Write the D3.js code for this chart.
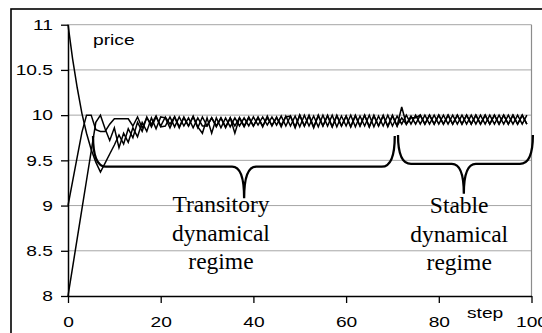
<!DOCTYPE html>
<html>
<head>
<meta charset="utf-8">
<script src="https://cdn.jsdelivr.net/npm/d3@7/dist/d3.min.js"></script>
<style>
  html, body { margin: 0; padding: 0; background: #fff; }
  svg { display: block; }
</style>
</head>
<body>
<svg id="chart" width="542" height="333"></svg>
<script>
// ---------------- data ----------------
const xTicks = [0, 20, 40, 60, 80, 100];
const yTicks = [8, 8.5, 9, 9.5, 10, 10.5, 11];
const yTickLabels = ["8", "8.5", "9", "9.5", "10", "10.5", "11"];

// price trajectories, one value per step (index = step)
const seriesFrom11 = [
  11, 10.62, 10.3, 10.02, 9.8, 9.62, 9.48, 9.37, 9.47, 9.57,
  9.67, 9.78, 9.68, 9.85, 9.75, 9.92, 9.82, 9.98, 9.87, 9.98,
  9.88, 9.98, 9.9, 9.98, 9.86, 9.98, 9.88, 9.99, 9.87, 9.8,
  9.97, 9.8, 9.97, 9.86, 9.97, 9.87, 9.97, 9.88, 9.97, 9.88,
  9.98, 9.89, 9.98, 9.89, 9.98, 9.89, 9.99, 9.88, 9.99, 9.86,
  10, 9.88, 10, 9.87, 9.99, 9.88, 10, 9.87, 9.99, 9.88,
  9.99, 9.87, 10, 9.88, 10, 9.87, 9.99, 9.88, 10, 9.87,
  9.99, 9.88, 10.09, 9.9, 9.99, 9.9, 10, 9.9, 10, 9.9,
  10, 9.9, 10, 9.9, 10, 9.9, 10, 9.9, 10, 9.9,
  10, 9.9, 10, 9.9, 10, 9.9, 10, 9.9, 10, 9.9
];
const seriesFrom9 = [
  9, 9.27, 9.54, 9.81, 10, 10, 9.84, 9.82, 9.82, 9.9,
  9.96, 9.96, 9.96, 9.96, 9.88, 9.98, 9.86, 9.97, 9.9, 9.99,
  9.87, 9.88, 9.98, 9.87, 9.98, 9.88, 9.97, 9.86, 9.97, 9.88,
  9.88, 9.97, 9.87, 9.97, 9.86, 9.97, 9.8, 9.97, 9.87, 9.97,
  9.88, 9.97, 9.88, 9.97, 9.89, 9.97, 9.89, 9.98, 9.99, 9.87,
  10, 9.88, 9.99, 9.86, 10, 9.88, 9.99, 9.87, 10, 9.88,
  9.99, 9.87, 9.99, 9.88, 10, 9.87, 10, 9.88, 9.99, 9.88,
  10, 9.88, 9.97, 9.9, 9.97, 9.97, 10, 9.9, 10, 9.9,
  10, 9.9, 10, 9.9, 10, 9.9, 10, 9.9, 10, 9.9,
  10, 9.9, 10, 9.9, 10, 9.9, 10, 9.9, 10, 9.9
];
const seriesFrom8 = [
  8, 8.32, 8.64, 8.96, 9.28, 9.6, 9.92, 10, 9.85, 9.72,
  9.86, 9.64, 9.8, 9.7, 9.86, 9.76, 9.92, 9.82, 9.97, 9.85,
  9.98, 9.97, 9.86, 9.98, 9.87, 9.97, 9.88, 9.98, 9.86, 9.98,
  9.88, 9.97, 9.88, 9.97, 9.87, 9.97, 9.88, 9.97, 9.88, 9.98,
  9.88, 9.98, 9.87, 9.99, 9.88, 9.98, 9.87, 9.99, 9.88, 9.99,
  9.87, 10, 9.88, 9.99, 9.87, 10, 9.88, 10, 9.87, 9.99,
  9.88, 10, 9.87, 9.99, 9.88, 10, 9.87, 9.99, 9.88, 10,
  9.88, 9.99, 9.9, 10, 9.9, 10, 9.9, 10, 9.9, 10,
  9.9, 10, 9.9, 10, 9.9, 10, 9.9, 10, 9.9, 10,
  9.9, 10, 9.9, 10, 9.9, 10, 9.9, 10, 9.9, 10
];
const allSeries = [seriesFrom11, seriesFrom9, seriesFrom8];

// braces (in data units): [xStart, xEnd, yEnds, yBar, xTip, yTip, cornerSteps, cuspSteps]
const braceStart = [5.4, 71.2];
const braceEnd = [70.5, 100.3];
const braceEndY = [9.77, 9.78];
const braceBarY = [9.43, 9.46];
const braceTipX = [38.0, 85.4];
const braceTipY = [9.08, 9.13];

const regimeLines = [["Transitory", "dynamical", "regime"], ["Stable", "dynamical", "regime"]];
const regimeCenterX = [33.0, 84.4];
const regimeBaseY = [9.85, 9.53, 9.22]; // line baselines in data units (approx)

// ---------------- drawing ----------------
const svg = d3.select("#chart");
const x = d3.scaleLinear().domain([0, 100]).range([68, 531.5]);
const y = d3.scaleLinear().domain([8, 11]).range([296, 24.7]);
const SX = 1.28; // horizontal stretch of the sans text

// outer frame
svg.append("rect").attr("x", 11).attr("y", 9).attr("width", 600).attr("height", 400)
  .attr("fill", "none").attr("stroke", "#000").attr("stroke-width", 1.6);

// gridlines
svg.append("g").selectAll("line").data(yTicks.filter(d => d > 8)).join("line")
  .attr("x1", x(0)).attr("x2", x(100))
  .attr("y1", d => y(d)).attr("y2", d => y(d))
  .attr("stroke", "#a6a6a6").attr("stroke-width", 1);
// plot area right border
svg.append("line").attr("x1", x(100)).attr("x2", x(100)).attr("y1", y(11)).attr("y2", y(8))
  .attr("stroke", "#8c8c8c").attr("stroke-width", 1.2);

// axes
const yAxis = svg.append("g").attr("transform", `translate(${x(0)},0)`)
  .call(d3.axisLeft(y).tickValues(yTicks).tickSize(7).tickSizeOuter(0)
    .tickFormat((d, i) => yTickLabels[i]));
const xAxis = svg.append("g").attr("transform", `translate(0,${y(8)})`)
  .call(d3.axisBottom(x).tickValues(xTicks).tickSize(7).tickSizeOuter(0).tickPadding(13));
[yAxis, xAxis].forEach(g => {
  g.select(".domain").attr("stroke", "#000").attr("stroke-width", 1.5);
  g.selectAll(".tick line").attr("stroke", "#000").attr("stroke-width", 1.3);
  g.selectAll("text").attr("font-family", "'Liberation Sans', Arial, sans-serif")
    .attr("font-size", 15).attr("fill", "#000");
});
yAxis.selectAll("text").attr("x", -15 / SX).attr("transform", `scale(${SX},1)`);
xAxis.selectAll("text").attr("transform", `scale(${SX},1)`);

// series lines
const line = d3.line().x((d, i) => x(i)).y(d => y(d));
svg.append("g").selectAll("path").data(allSeries).join("path")
  .attr("d", line).attr("fill", "none").attr("stroke", "#000")
  .attr("stroke-width", 1.5).attr("stroke-linejoin", "miter");

// braces
const braces = braceStart.map((s, i) => ({
  x0: x(s), x1: x(braceEnd[i]), yE: y(braceEndY[i]), yB: y(braceBarY[i]),
  tx: x(braceTipX[i]), ty: y(braceTipY[i])
}));
svg.append("g").selectAll("path").data(braces).join("path")
  .attr("d", b => {
    const r = 13, c = 12;
    return `M${b.x0},${b.yE} Q${b.x0},${b.yB} ${b.x0 + r},${b.yB} L${b.tx - c},${b.yB} ` +
      `Q${b.tx},${b.yB} ${b.tx},${b.ty} Q${b.tx},${b.yB} ${b.tx + c},${b.yB} ` +
      `L${b.x1 - r},${b.yB} Q${b.x1},${b.yB} ${b.x1},${b.yE}`;
  })
  .attr("fill", "none").attr("stroke", "#000").attr("stroke-width", 2.3);

// regime labels
regimeLines.forEach((lines, gi) => {
  svg.append("g").selectAll("text").data(lines).join("text")
    .attr("x", x(regimeCenterX[gi]))
    .attr("y", (d, i) => y(regimeBaseY[i]) + 212 - y(9.85) + (gi === 1 ? 1 : 0))
    .attr("text-anchor", "middle")
    .attr("font-family", "'Liberation Serif', 'Times New Roman', serif")
    .attr("font-size", 23.5).attr("fill", "#000")
    .text(d => d);
});

// axis titles
svg.append("text").attr("x", 93 / SX).attr("y", 45).attr("transform", `scale(${SX},1)`)
  .attr("font-family", "'Liberation Sans', Arial, sans-serif").attr("font-size", 15).text("price");
svg.append("text").attr("x", 467 / SX).attr("y", 318).attr("transform", `scale(${SX},1)`)
  .attr("font-family", "'Liberation Sans', Arial, sans-serif").attr("font-size", 15).text("step");
</script>
</body>
</html>
